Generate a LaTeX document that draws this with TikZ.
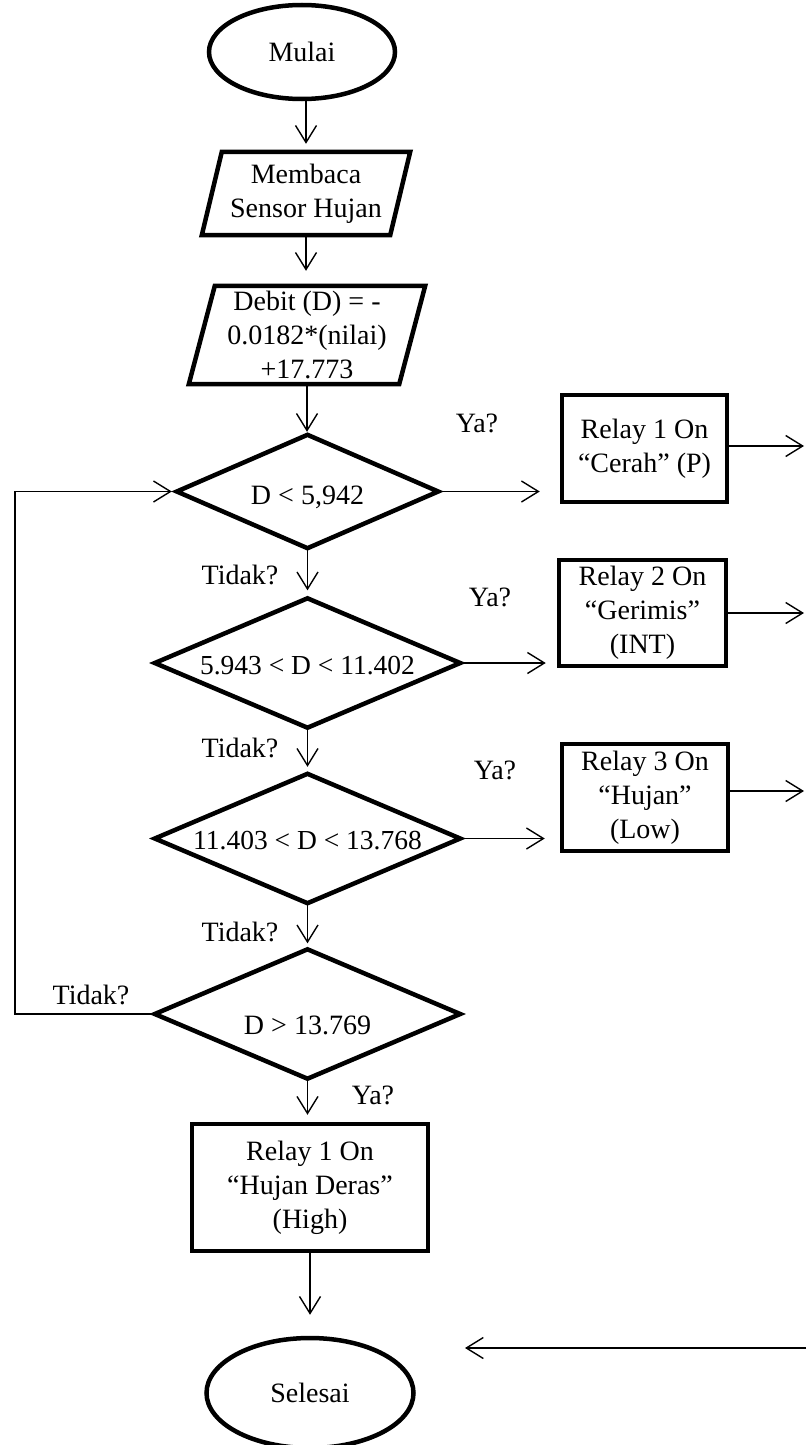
\documentclass[tikz,border=0pt]{standalone}
\usepackage{fontspec}
\setmainfont{Liberation Serif}
\usetikzlibrary{arrows.meta,shapes.geometric,calc}
\begin{document}
\begin{tikzpicture}[x=1pt,y=-1pt,
  txt/.style={font=\fontsize{28}{34}\selectfont, align=center, inner sep=0pt},
  term/.style={txt, ellipse, draw, line width=4.5pt},
  frame/.style={txt, rectangle},
  procbox/.style={txt, rectangle, draw, line width=4.5pt},
  outline/.style={line width=4.5pt},
  conn/.style={line width=1.4pt, -{Straight Barb[length=17pt,width=21pt]}},
  lbl/.style={txt}
]
\useasboundingbox (0,0) rectangle (806,1445);

% terminals
\node[term, minimum width=186pt, minimum height=94pt] (mulai) at (302,52) {Mulai};
\node[term, minimum width=207pt, minimum height=110pt] (sel) at (310,1393) {Selesai};

% parallelograms (frames + outlines)
\node[frame, minimum width=208pt, minimum height=83pt] (p1) at (306,193.5) {Membaca\\Sensor Hujan};
\draw[outline] ([xshift=20pt]p1.north west) -- (p1.north east) -- ([xshift=-20pt]p1.south east) -- (p1.south west) -- cycle;

\node[frame, minimum width=236pt, minimum height=98pt] (p2) at (307,335) {Debit (D) = -\\0.0182*(nilai)\\+17.773};
\draw[outline] ([xshift=26pt]p2.north west) -- (p2.north east) -- ([xshift=-26pt]p2.south east) -- (p2.south west) -- cycle;

% decisions
\node[frame, minimum width=261pt, minimum height=113pt, text height=25pt, text depth=0pt] (d1) at (307.5,491.5) {D < 5,942};
\node[frame, minimum width=305pt, minimum height=129pt, font=\fontsize{27.5}{34}\selectfont, text height=22pt, text depth=0pt] (d2) at (307.5,663) {5.943 < D < 11.402};
\node[frame, minimum width=305pt, minimum height=129pt, font=\fontsize{27.5}{34}\selectfont, text height=22pt, text depth=0pt] (d3) at (307.5,838.5) {11.403 < D < 13.768};
\node[frame, minimum width=305pt, minimum height=129pt, text height=40pt, text depth=0pt] (d4) at (307.5,1014) {D > 13.769};
\foreach \d in {d1,d2,d3,d4}
  \draw[outline] (\d.north) -- (\d.east) -- (\d.south) -- (\d.west) -- cycle;

% process boxes
\node[procbox, minimum width=165pt, minimum height=107pt] (r1) at (644.5,448.5) {Relay 1 On\\``Cerah'' (P)};
\node[procbox, minimum width=167pt, minimum height=106pt] (r2) at (642.5,613) {Relay 2 On\\``Gerimis''\\(INT)};
\node[procbox, minimum width=166pt, minimum height=107pt] (r3) at (645,797.5) {Relay 3 On\\``Hujan''\\(Low)};
\node[procbox, minimum width=236pt, minimum height=127pt] (high) at (310,1187.5) {Relay 1 On\\``Hujan Deras''\\(High)};

% free ends
\coordinate (o1) at (804,446);
\coordinate (o2) at (804,613);
\coordinate (o3) at (804,791);
\coordinate (b1) at (806,1348);
\coordinate (b2) at (465,1348);
\coordinate (lp) at (15,0);

% main column arrows
\draw[conn, shorten >=8pt] (p1.north |- mulai.south) -- (p1.north);
\draw[conn, shorten >=15pt] (p1.south) -- (p1.south |- p2.north);
\draw[conn, shorten >=3pt] (p2.south) -- (p2.south |- d1.north);
\draw[conn, shorten >=8pt] (d1.south) -- (d2.north);
\draw[conn, shorten >=7pt] (d2.south) -- (d3.north);
\draw[conn, shorten >=6pt] (d3.south) -- (d4.north);
\draw[conn, shorten >=7pt] (d4.south) -- (d4.south |- high.north);
\draw[conn, shorten >=21pt] (high.south) -- (high.south |- sel.north);

% branches to relays
\draw[conn, shorten >=20pt] (d1.east) -- (d1.east -| r1.west);
\draw[conn, shorten >=11pt] (d2.east) -- (d2.east -| r2.west);
\draw[conn, shorten >=15pt] (d3.east) -- (d3.east -| r3.west);
\draw[conn] (r1.east |- o1) -- (o1);
\draw[conn] (r2.east |- o2) -- (o2);
\draw[conn] (r3.east |- o3) -- (o3);
\draw[conn] (b1) -- (b2);

% loop back
\draw[conn, shorten >=5pt] (d4.west) -- (lp |- d4.west) -- (lp |- d1.west) -- (d1.west);

% labels
\node[lbl] (ya1) at (477,423) {Ya?};
\node[lbl] (ti1) at (240,575) {Tidak?};
\node[lbl] (ya2) at (490,597) {Ya?};
\node[lbl] (ti2) at (240,748) {Tidak?};
\node[lbl] (ya3) at (495,770) {Ya?};
\node[lbl] (ti3) at (240,932) {Tidak?};
\node[lbl] (ti4) at (91,995) {Tidak?};
\node[lbl] (ya4) at (373,1095) {Ya?};
\end{tikzpicture}
\end{document}
